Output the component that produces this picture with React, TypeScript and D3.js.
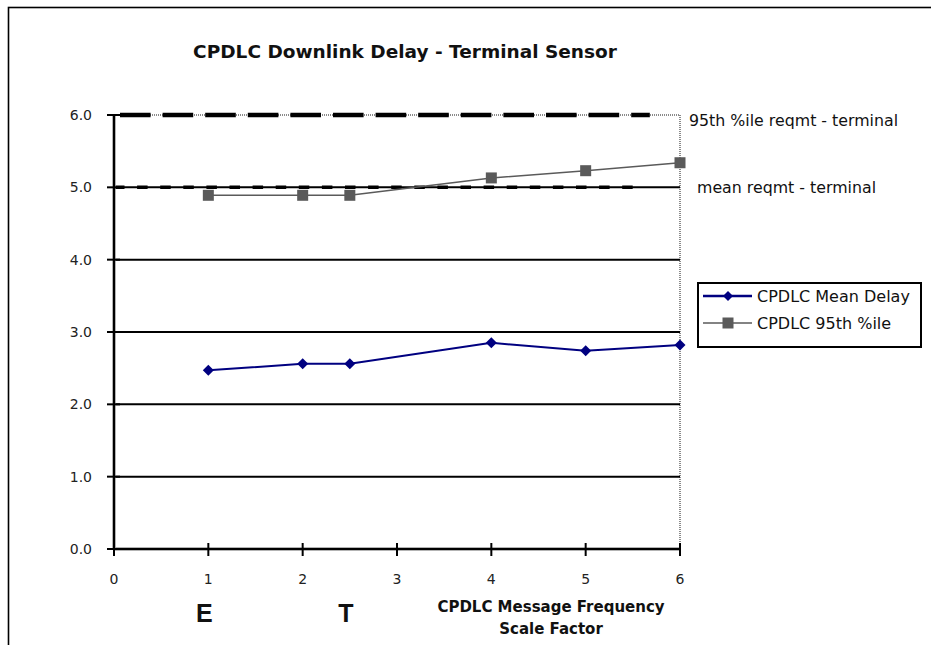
import React from "react";
import * as d3 from "d3";

const scaleFactors = [1, 2, 2.5, 4, 5, 6];
const meanDelay = [2.47, 2.56, 2.56, 2.85, 2.74, 2.82];
const pct95Delay = [4.89, 4.89, 4.89, 5.13, 5.23, 5.34];
const yTicks = [0, 1, 2, 3, 4, 5, 6];
const xTicks = [0, 1, 2, 3, 4, 5, 6];
const meanReqmt = { value: 5.0, from: 0, to: 5.51, label: "mean reqmt - terminal" };
const pctReqmt = { value: 6.0, from: 0, to: 5.68, label: "95th %ile reqmt - terminal" };
const seriesNames = ["CPDLC Mean Delay", "CPDLC 95th %ile"];
const siteLabels = [{ x: 1, text: "E" }, { x: 2.5, text: "T" }];

const W = 931, H = 645;
const NAVY = "#000080";
const GRAY = "#5a5a5a";
const FONT = "'DejaVu Sans', sans-serif";

export default function App() {
  const x = d3.scaleLinear().domain([0, 6]).range([114, 680]);
  const y = d3.scaleLinear().domain([0, 6]).range([549, 115]);
  const line = d3.line<[number, number]>().x(d => x(d[0])).y(d => y(d[1]));
  const meanPts: [number, number][] = scaleFactors.map((s, i) => [s, meanDelay[i]]);
  const p95Pts: [number, number][] = scaleFactors.map((s, i) => [s, pct95Delay[i]]);
  const diamond = (cx: number, cy: number, r: number) =>
    `M${cx},${cy - r}L${cx + r},${cy}L${cx},${cy + r}L${cx - r},${cy}Z`;

  return (
    <svg width={W} height={H} style={{ position: "absolute", left: 0, top: 0, background: "#fff" }}>
      <rect x={0} y={0} width={W} height={H} fill="#fff" />
      {/* outer chart border (extends beyond frame) */}
      <rect x={8.5} y={7.5} width={1200} height={1200} fill="none" stroke="#000" strokeWidth={1.6} />

      {/* title */}
      <text x={405} y={58} textAnchor="middle" fontFamily={FONT} fontWeight="bold" fontSize={18.5} fill="#111">
        CPDLC Downlink Delay - Terminal Sensor
      </text>

      {/* plot area border (gray) */}
      <line x1={x(0)} x2={x(6)} y1={y(6)} y2={y(6)} stroke="#8a8a8a" strokeWidth={2} strokeDasharray="1 1" />
      <line x1={x(6)} x2={x(6)} y1={y(6)} y2={y(0)} stroke="#8a8a8a" strokeWidth={2} strokeDasharray="1 1" />

      {/* gridlines */}
      {yTicks.filter(t => t > 0 && t < 6).map(t => (
        <line key={t} x1={x(0)} x2={x(6)} y1={y(t)} y2={y(t)} stroke="#000" strokeWidth={2} />
      ))}

      {/* requirement lines */}
      <line x1={x(pctReqmt.from)} x2={x(pctReqmt.to)} y1={y(pctReqmt.value)} y2={y(pctReqmt.value)}
        stroke="#000" strokeWidth={4.5} strokeDasharray="30.6 12" strokeDashoffset={36.6} />
      <line x1={x(meanReqmt.from)} x2={x(meanReqmt.to)} y1={y(meanReqmt.value)} y2={y(meanReqmt.value)}
        stroke="#000" strokeWidth={3.5} strokeDasharray="10.5 12.6" />
      <text x={689} y={126} fontFamily={FONT} fontSize={15.8} fill="#111">{pctReqmt.label}</text>
      <text x={697} y={193} fontFamily={FONT} fontSize={15.8} fill="#111">{meanReqmt.label}</text>

      {/* axes */}
      <line x1={x(0)} x2={x(0)} y1={y(6)} y2={y(0)} stroke="#9a9a9a" strokeWidth={3.5} />
      <line x1={x(0)} x2={x(0)} y1={y(6)} y2={y(0)} stroke="#000" strokeWidth={2} />
      <line x1={x(0)} x2={x(6)} y1={y(0)} y2={y(0)} stroke="#9a9a9a" strokeWidth={3.5} />
      <line x1={x(0)} x2={x(6)} y1={y(0)} y2={y(0)} stroke="#000" strokeWidth={2.2} />
      {yTicks.map(t => (
        <g key={t}>
          <line x1={x(0) - 7} x2={x(0) + 6} y1={y(t)} y2={y(t)} stroke="#000" strokeWidth={2} />
          <text x={92} y={y(t) + 5} textAnchor="end" fontFamily={FONT} fontSize={14} fill="#222">{t.toFixed(1)}</text>
        </g>
      ))}
      {xTicks.map(t => (
        <g key={t}>
          <line x1={x(t)} x2={x(t)} y1={y(0) - 6} y2={y(0) + 7} stroke="#000" strokeWidth={2} />
          <text x={x(t)} y={584} textAnchor="middle" fontFamily={FONT} fontSize={14} fill="#222">{t}</text>
        </g>
      ))}

      {/* axis title */}
      <text x={551} y={612} textAnchor="middle" fontFamily={FONT} fontWeight="bold" fontSize={15} fill="#111">CPDLC Message Frequency</text>
      <text x={551} y={634} textAnchor="middle" fontFamily={FONT} fontWeight="bold" fontSize={15} fill="#111">Scale Factor</text>
      {siteLabels.map(s => (
        <text key={s.text} x={x(s.x) - 4} y={622} textAnchor="middle" fontFamily="'Liberation Sans', Arial, sans-serif"
          fontWeight="bold" fontSize={25} fill="#111">{s.text}</text>
      ))}

      {/* series */}
      <path d={line(p95Pts) || ""} fill="none" stroke={GRAY} strokeWidth={1.5} />
      {p95Pts.map((p, i) => (
        <rect key={i} x={x(p[0]) - 5.5} y={y(p[1]) - 5.5} width={11} height={11} fill={GRAY} />
      ))}
      <path d={line(meanPts) || ""} fill="none" stroke={NAVY} strokeWidth={2} />
      {meanPts.map((p, i) => (
        <path key={i} d={diamond(x(p[0]), y(p[1]), 5.5)} fill={NAVY} />
      ))}

      {/* legend */}
      <rect x={698} y={283} width={223} height={64} fill="#fff" stroke="#000" strokeWidth={2} />
      <clipPath id="legclip"><rect x={699} y={284} width={221} height={62} /></clipPath>
      <g clipPath="url(#legclip)">
        <line x1={703} x2={752} y1={296} y2={296} stroke={NAVY} strokeWidth={2.5} />
        <path d={diamond(728, 296, 5)} fill={NAVY} />
        <text x={757} y={301.5} fontFamily={FONT} fontSize={16} fill="#111">{seriesNames[0]}</text>
        <line x1={703} x2={752} y1={323} y2={323} stroke={GRAY} strokeWidth={1.5} />
        <rect x={722.5} y={317.5} width={11} height={11} fill={GRAY} />
        <text x={757} y={328.5} fontFamily={FONT} fontSize={16} fill="#111">{seriesNames[1]}</text>
      </g>
    </svg>
  );
}
